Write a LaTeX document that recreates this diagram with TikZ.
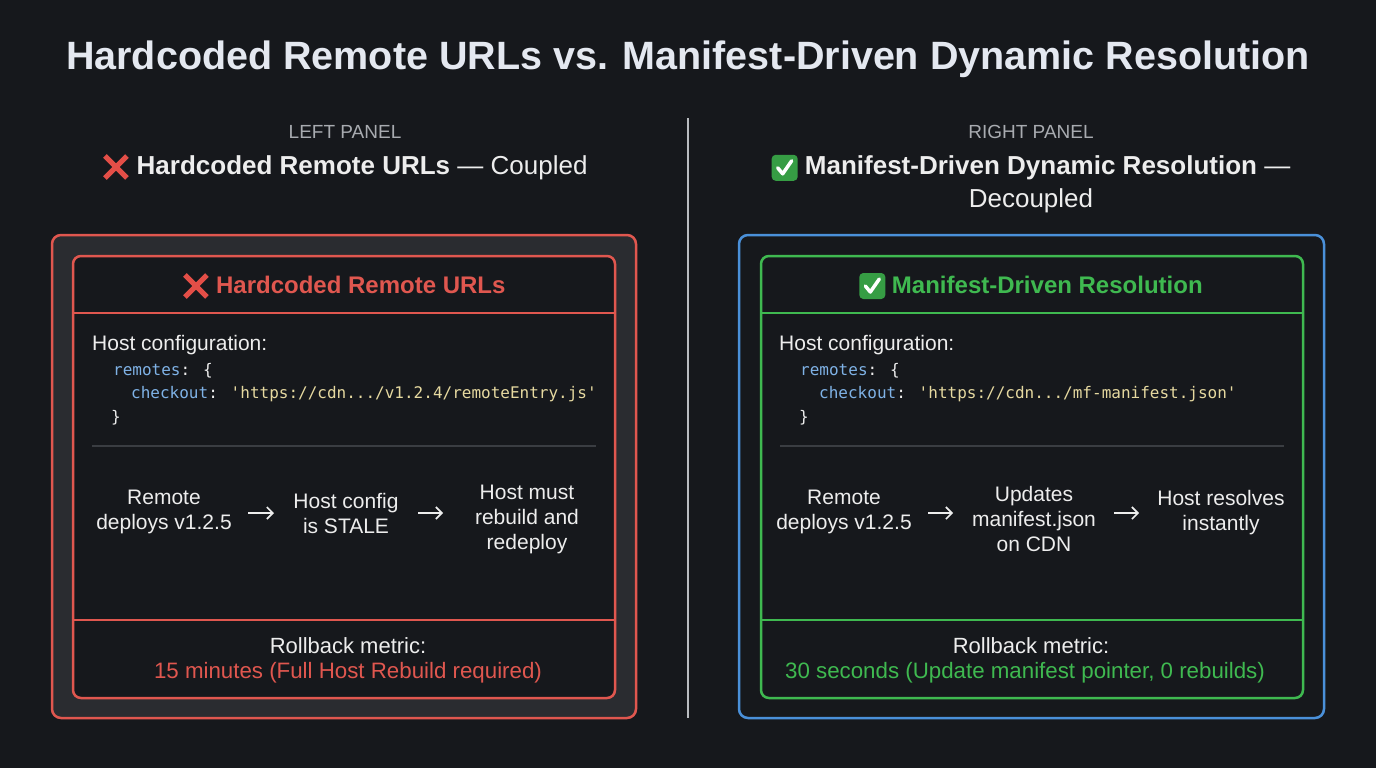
\documentclass[tikz,border=0pt]{standalone}
\usepackage{fontspec}
\setmainfont{Liberation Sans}
\newfontfamily\codefont{DejaVu Sans Mono}
\usetikzlibrary{arrows.meta}
\definecolor{bg}{HTML}{16181C}
\definecolor{panelgray}{HTML}{2A2C30}
\definecolor{redc}{HTML}{E0574F}
\definecolor{greenc}{HTML}{3FB950}
\definecolor{bluec}{HTML}{4A90D9}
\definecolor{txt}{HTML}{EDEDED}
\definecolor{titlec}{HTML}{E4E8F0}
\definecolor{graytxt}{HTML}{A8ABB0}
\definecolor{keyc}{HTML}{7FB2E6}
\definecolor{strc}{HTML}{E6D9A0}
\definecolor{sepc}{HTML}{3A3D42}
\newcommand\myxmark{\tikz[x=1pt,y=1pt,baseline=-7pt]{\draw[line width=5pt,color=redc!90!red] (-11,-11)--(11,11) (-11,11)--(11,-11);}}
\newcommand\mycheck{\tikz[x=1pt,y=1pt,baseline=-7pt]{\fill[greenc!85!black,rounded corners=4pt] (-13,-13) rectangle (13,13);\draw[white,line width=3.5pt,line cap=round,line join=round] (-7,0)--(-2,-6)--(7,7);}}
\tikzset{
 t/.style={text=txt,font=\fontsize{21}{25}\selectfont,align=center},
 code/.style={anchor=base west,inner sep=0,font=\codefont\fontsize{16}{20}\selectfont,text=txt},
 arr/.style={-{Straight Barb[length=6pt,width=12pt]},line width=1.6pt,txt}
}
\begin{document}
\begin{tikzpicture}[x=1pt,y=-1pt]
\fill[bg] (0,0) rectangle (1376,768);
\useasboundingbox (0,0) rectangle (1376,768);
\node[text=titlec,font=\bfseries\fontsize{39.5}{44}\selectfont] (title) at (688,59) {Hardcoded Remote URLs vs. Manifest-Driven Dynamic Resolution};
\draw[graytxt!80,line width=1.5pt] (688,118) coordinate (d1) -- (688,718) coordinate (d2);
% left heading
\node[text=graytxt,font=\fontsize{19}{22}\selectfont] (lp) at (345,132) {LEFT PANEL};
\node[t,font=\fontsize{26}{30}\selectfont] (lh) at (345,167) {\myxmark\ \textbf{Hardcoded Remote URLs} — Coupled};
\node[text=graytxt,font=\fontsize{19}{22}\selectfont] (rp) at (1031,132) {RIGHT PANEL};
\node[t,font=\fontsize{26}{33}\selectfont] (rh) at (1031,184) {\mycheck\ \textbf{Manifest-Driven Dynamic Resolution} —\\Decoupled};
% left boxes
\draw[redc,line width=2.5pt,fill=panelgray,rounded corners=9pt] (52,235) rectangle (636,718);
\draw[redc,line width=2.5pt,fill=bg,rounded corners=8pt] (73,256) rectangle (615,698);
\draw[redc,line width=2.5pt] (73,313) -- (615,313) (73,620) -- (615,620);
\draw[sepc,line width=1.2pt] (92,446) -- (596,446);
\node[text=redc,font=\bfseries\fontsize{24}{28}\selectfont] (lt) at (344,286) {\myxmark\ Hardcoded Remote URLs};
\node[t,anchor=base west,inner sep=0] (lhc) at (92,350) {Host configuration:};
\node[code] (lc1) at (113,375) {\textcolor{keyc}{remotes}: \{};
\node[code] (lc2) at (131,398) {\textcolor{keyc}{checkout}: \textcolor{strc}{'https://cdn.../v1.2.4/remoteEntry.js'}};
\node[code] (lc3) at (111,422) {\}};
\node[t] (l1) at (164,512) {Remote\\deploys v1.2.5};
\node[t] (l2) at (346,513) {Host config\\is STALE};
\node[t] (l3) at (527,519) {Host must\\rebuild and\\redeploy};
\draw[arr] (248,513) -- (274,513);
\draw[arr] (418,513) -- (443,513);
\node[t,font=\fontsize{22}{26}\selectfont] (lm) at (348,646) {Rollback metric:};
\node[t,text=redc,font=\fontsize{22.3}{26}\selectfont] (lv) at (348,673) {15 minutes (Full Host Rebuild required)};
% right boxes
\draw[bluec,line width=2.5pt,fill=bg,rounded corners=9pt] (739,235) rectangle (1324,718);
\draw[greenc,line width=2.5pt,fill=bg,rounded corners=8pt] (761,256) rectangle (1303,698);
\draw[greenc,line width=2.5pt] (761,313) -- (1303,313) (761,620) -- (1303,620);
\draw[sepc,line width=1.2pt] (780,446) -- (1284,446);
\node[text=greenc,font=\bfseries\fontsize{24}{28}\selectfont] (rt) at (1031,286) {\mycheck\ Manifest-Driven Resolution};
\node[t,anchor=base west,inner sep=0] (rhc) at (779,350) {Host configuration:};
\node[code] (rc1) at (800,375) {\textcolor{keyc}{remotes}: \{};
\node[code] (rc2) at (819,398) {\textcolor{keyc}{checkout}: \textcolor{strc}{'https://cdn.../mf-manifest.json'}};
\node[code] (rc3) at (799,422) {\}};
\node[t] (r1) at (844,512) {Remote\\deploys v1.2.5};
\node[t] (r2) at (1034,519) {Updates\\manifest.json\\on CDN};
\node[t] (r3) at (1221,513) {Host resolves\\instantly};
\draw[arr] (928,513) -- (953,513);
\draw[arr] (1114,513) -- (1139,513);
\node[t,font=\fontsize{22}{26}\selectfont] (rm) at (1031,646) {Rollback metric:};
\node[t,text=greenc,font=\fontsize{22.3}{26}\selectfont] (rv) at (1025,673) {30 seconds (Update manifest pointer, 0 rebuilds)};
\end{tikzpicture}
\end{document}
